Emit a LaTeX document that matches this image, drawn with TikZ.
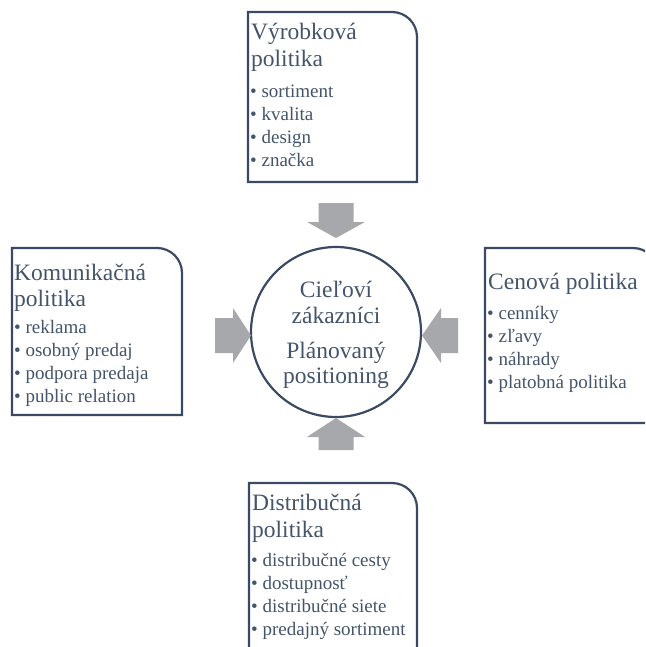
\documentclass[tikz,border=0pt]{standalone}
\usepackage{fontspec}
\setmainfont{Liberation Serif}
\definecolor{boxline}{HTML}{3B4A63}
\definecolor{txt}{HTML}{44546A}
\definecolor{arrowgray}{HTML}{A6A8AB}
\tikzset{
  boxframe/.style={draw=boxline, line width=2.2pt},
  ttl/.style={anchor=base west, inner sep=0pt, text=txt, font=\fontsize{23.5}{28}\selectfont},
  itm/.style={anchor=base west, inner sep=0pt, text=txt, font=\fontsize{19}{23}\selectfont},
  ctr/.style={anchor=base, inner sep=0pt, text=txt, font=\fontsize{23.5}{26}\selectfont},
  blockarrow/.style={fill=arrowgray, draw=none}
}
\begin{document}
\begin{tikzpicture}[x=1pt,y=1pt]
\useasboundingbox (0,0) rectangle (645,-647);
\clip (0,0) rectangle (645,-647);
% boxes (rounded top-right corner only)
\draw[boxframe] (248,-182) -- (248,-12) -- (392,-12) arc (90:0:25) -- (417,-182) -- cycle;
\draw[boxframe] (12,-415) -- (12,-248) -- (157,-248) arc (90:0:25) -- (182,-415) -- cycle;
\draw[boxframe] (485,-423) -- (485,-248) -- (633,-248) arc (90:0:25) -- (658,-423) -- cycle;
\draw[boxframe] (249,-660) -- (249,-483) -- (392,-483) arc (90:0:25) -- (417,-660) -- cycle;
% center circle
\node[circle, draw=boxline, line width=2.2pt, minimum size=170pt, inner sep=0pt] (hub) at (336,-332) {};
\node[ctr] (c1) at (336,-297) {Cieľoví};
\node[ctr] (c2) at (336,-323) {zákazníci};
\node[ctr] (c3) at (336,-358) {Plánovaný};
\node[ctr] (c4) at (336,-383) {positioning};
% block arrows
\fill[blockarrow] (318.5,-203) -- (353.5,-203) -- (353.5,-222) -- (365,-222) -- (336,-238) -- (307,-222) -- (318.5,-222) -- cycle;
\fill[blockarrow] (318.5,-450) -- (353.5,-450) -- (353.5,-437) -- (365,-437) -- (336,-418) -- (307,-437) -- (318.5,-437) -- cycle;
\fill[blockarrow] (215,-318) -- (233,-318) -- (233,-308) -- (251,-335.5) -- (233,-363) -- (233,-353) -- (215,-353) -- cycle;
\fill[blockarrow] (458,-318) -- (441,-318) -- (441,-308) -- (422,-335.5) -- (441,-363) -- (441,-353) -- (458,-353) -- cycle;
% top box text
\node[ttl] (p1) at (251,-40) {Výrobková};
\node[ttl] (p2) at (251,-67) {politika};
\node[itm] (p3) at (250,-98) {• sortiment};
\node[itm] (p4) at (250,-121) {• kvalita};
\node[itm] (p5) at (250,-144) {• design};
\node[itm] (p6) at (250,-167) {• značka};
% left box text
\node[ttl] (k1) at (14,-280) {Komunikačná};
\node[ttl] (k2) at (14,-306) {politika};
\node[itm] (k3) at (14,-333) {• reklama};
\node[itm] (k4) at (14,-356) {• osobný predaj};
\node[itm] (k5) at (14,-379) {• podpora predaja};
\node[itm] (k6) at (14,-402) {• public relation};
% right box text
\node[ttl] (r1) at (488,-289) {Cenová politika};
\node[itm] (r2) at (487,-319) {• cenníky};
\node[itm] (r3) at (487,-342) {• zľavy};
\node[itm] (r4) at (487,-365) {• náhrady};
\node[itm] (r5) at (487,-388) {• platobná politika};
% bottom box text
\node[ttl] (d1) at (252,-510) {Distribučná};
\node[ttl] (d2) at (252,-537) {politika};
\node[itm] (d3) at (251,-566) {• distribučné cesty};
\node[itm] (d4) at (251,-589) {• dostupnosť};
\node[itm] (d5) at (251,-612) {• distribučné siete};
\node[itm] (d6) at (251,-635) {• predajný sortiment};
\end{tikzpicture}
\end{document}
